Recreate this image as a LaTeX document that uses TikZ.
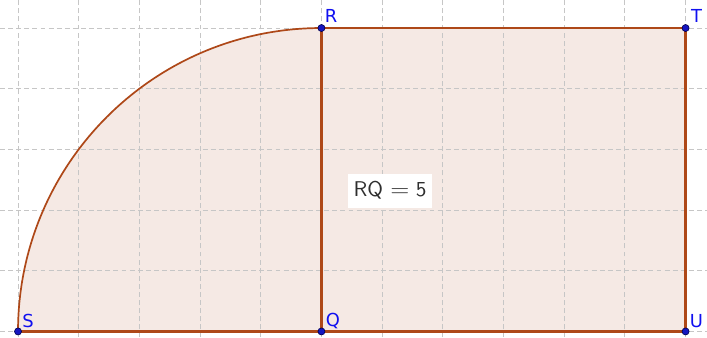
\documentclass[tikz,border=0pt]{standalone}
\usepackage{fontspec}
\setmainfont{DejaVu Sans}
\setsansfont{Latin Modern Sans}
\definecolor{edgecol}{RGB}{174,72,24}
\definecolor{fillcol}{RGB}{245,233,228}
\definecolor{ptcol}{RGB}{21,21,192}
\definecolor{ptedge}{RGB}{0,0,80}
\definecolor{labcol}{RGB}{16,16,240}
\begin{document}
\begin{tikzpicture}[
  gridline/.style={draw=gray!45, line width=0.45pt, dash pattern=on 2.3pt off 1.5pt},
  arcline/.style={draw=edgecol, line width=0.8pt},
  borderline/.style={draw=edgecol, line width=1.1pt},
  ptdot/.style={circle, fill=ptcol, draw=ptedge, line width=0.3pt, inner sep=0pt, minimum size=3.3pt},
  ptlabel/.style={text=labcol, font=\fontsize{8.4}{9}\selectfont, inner sep=0pt},
]
\useasboundingbox (-5.297,-0.099) rectangle (6.353,5.462);
% fill
\fill[fillcol] (-5,0) arc[start angle=180, end angle=90, radius=5] -- (6,5) -- (6,0) -- cycle;
% grid
\foreach \y in {0,...,5} \draw[gridline] (-5.297,\y) -- (6.353,\y);
\foreach \x in {-5,...,6} \draw[gridline] (\x,-0.099) -- (\x,5.462);
% points
\coordinate (S) at (-5,0);
\coordinate (Q) at (0,0);
\coordinate (R) at (0,5);
\coordinate (T) at (6,5);
\coordinate (U) at (6,0);
% edges
\draw[arcline] (S) arc[start angle=180, end angle=90, radius=5];
\draw[borderline] (R) -- (T);
\draw[borderline] (T) -- (U);
\draw[borderline] (U) -- (S);
\draw[borderline] (Q) -- (R);
% text
\node[fill=white, inner xsep=2.8pt, inner ysep=3.8pt, font=\sffamily\fontsize{10}{12}\selectfont, text=black!82] (rq) at (1.13,2.32) {RQ\hspace{3.4pt}\scalebox{1.15}[1]{$=$}\hspace{3.0pt}5};
% dots and labels
\foreach \p in {S,Q,R,T,U} \node[ptdot] (d\p) at (\p) {};
\node[ptlabel] (lS) at (-4.835,0.165) {S};
\node[ptlabel] (lQ) at (0.19,0.18) {Q};
\node[ptlabel] (lR) at (0.16,5.205) {R};
\node[ptlabel] (lT) at (6.18,5.2) {T};
\node[ptlabel] (lU) at (6.18,0.165) {U};
\end{tikzpicture}
\end{document}
